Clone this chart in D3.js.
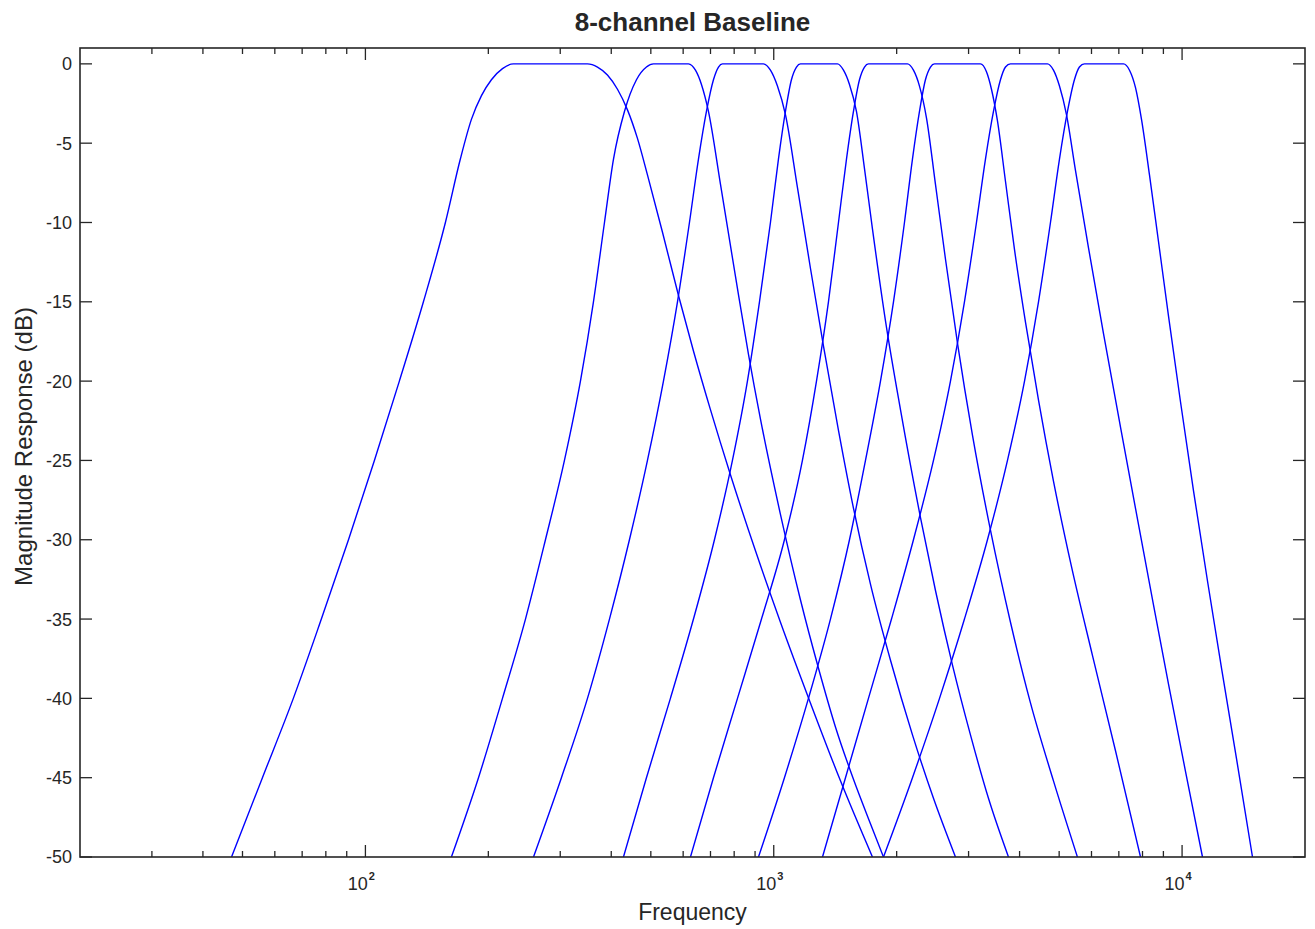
<!DOCTYPE html>
<html>
<head>
<meta charset="utf-8">
<script src="https://cdn.jsdelivr.net/npm/d3@7"></script>
<style>
body { margin: 0; background: #fff; }
text { font-family: "Liberation Sans", Arial, sans-serif; fill: #262626; }
</style>
</head>
<body>
<div id="chart"></div>
<script>

// Frequency responses: [frequency (Hz), magnitude (dB)]
var ch1 = [[47.0,-50],[55.95,-45],[66.6,-40],[78.0,-35],[90.9,-30],[105.2,-25],[121.1,-20],[138.7,-15],
	[157.0,-10],[170.8,-6],[181.8,-3.5],[192.4,-2],[203.5,-1],[216.6,-0.3],[230.4,0],[349.8,0],
	[370.1,-0.2],[391.5,-0.7],[414.3,-1.6],[438.3,-2.9],[463.7,-4.7],[490.6,-7.0],[533.8,-10.6],
	[584.4,-14.6],[635.9,-18.1],[699.8,-21.8],[783.3,-25.9],[902.1,-30.7],[1038.5,-35.2],[1230.2,-40.3],
	[1456.8,-45.2],[1744.7,-50]];

var ch2 = [[162.4,-50],[189.2,-45],[216.6,-40],[246.6,-35],[276.0,-30],[307.2,-25],[336.2,-20],[361.8,-15],
	[385.0,-10],[405.1,-6],[430.9,-3],[461.1,-1],[487.8,-0.2],[507.5,0],[618.2,0],
	[643.1,-0.4],[665.2,-1.3],[692.0,-3.0],[740.6,-7.6],[805.9,-13.4],[867.0,-18.3],[927.9,-22.4],
	[1038.5,-28.4],[1162.8,-33.8],[1287.0,-38.1],[1416.2,-41.8],[1567.5,-45.1],[1725.2,-47.9],[1856.8,-50]];

var ch3 = [[258.0,-50],[302.0,-45],[349.8,-40],[396.0,-35],[443.2,-30],[490.6,-25],[536.9,-20],[581.1,-15],
	[621.7,-10],[654.1,-6],[684.2,-3],[711.8,-1],[732.3,-0.2],[749.0,0],[943.7,0],
	[981.6,-0.4],[1021.1,-1.4],[1068.2,-3.2],[1143.1,-7.8],[1230.2,-12.9],[1323.8,-17.8],[1440.5,-23.1],
	[1567.5,-28.0],[1725.2,-32.8],[1931.6,-37.6],[2186.4,-42.3],[2461.4,-46.3],[2786.5,-50]];

var ch4 = [[428.5,-50],[487.8,-45],[558.4,-40],[635.9,-35],[715.8,-30],[792.2,-25],[862.1,-20],[922.7,-15],
	[981.6,-10],[1026.9,-6],[1068.2,-3],[1104.9,-1],[1136.7,-0.2],[1162.8,0],[1432.3,0],
	[1481.8,-0.4],[1532.8,-1.3],[1594.2,-3.0],[1668.1,-6.6],[1744.7,-10.4],[1877.8,-16.2],[2043.4,-21.8],
	[2287.5,-28.6],[2489.3,-33.2],[2739.8,-37.9],[3032.1,-42.3],[3356.3,-46.3],[3757.1,-50]];

var ch5 = [[625.2,-50],[711.8,-45],[815.1,-40],[933.2,-35],[1062.2,-30],[1175.5,-25],[1272.5,-20],[1361.4,-15],
	[1440.5,-10],[1507.1,-6],[1567.5,-3],[1621.7,-1],[1668.1,-0.2],[1705.8,0],[2125.6,0],
	[2198.7,-0.4],[2274.6,-1.4],[2365.9,-3.4],[2489.3,-7.6],[2633.4,-12.3],[2818.1,-17.6],[3066.5,-23.4],
	[3394.2,-29.4],[3799.7,-35.2],[4254.8,-40.3],[4842.1,-45.2],[5542.6,-50]];

var ch6 = [[917.5,-50],[1062.2,-45],[1216.2,-40],[1376.8,-35],[1532.8,-30],[1677.5,-25],[1825.6,-20],
	[1964.4,-15],[2089.9,-10],[2186.4,-6],[2274.6,-3],[2352.4,-1],[2420.0,-0.2],[2475.2,0],[3208.1,0],
	[3318.6,-0.5],[3413.5,-1.6],[3530.9,-3.6],[3694.0,-7.4],[3886.4,-11.7],[4136.1,-16.3],[4450.3,-21.2],
	[4842.1,-26.3],[5360.2,-31.7],[6034.3,-37.3],[6870.0,-43.3],[7910.1,-50]];

var ch7 = [[1316.4,-50],[1498.6,-45],[1705.8,-40],[1942.5,-35],[2198.7,-30],[2461.4,-25],[2709.0,-20],
	[2931.2,-15],[3136.5,-10],[3300.0,-6],[3452.2,-3],[3591.2,-1],[3694.0,-0.2],[3799.7,0],[4681.1,0],
	[4842.1,-0.4],[5009.0,-1.4],[5210.5,-3.2],[5480.4,-6.7],[5899.6,-11.6],[6420.4,-17.0],[7066.3,-22.9],
	[7777.4,-28.7],[8510.9,-34.1],[9263.4,-39.1],[10194,-44.6],[11220,-50]];

var ch8 = [[1856.8,-50],[2186.4,-45],[2546.6,-40],[2931.2,-35],[3337.4,-30],[3736.0,-25],[4112.9,-20],
	[4450.3,-15],[4761.0,-10],[5009.0,-6],[5240.0,-3],[5449.6,-1],[5605.7,-0.2],[5766.0,0],[7186.8,0],
	[7434.2,-0.4],[7690.3,-1.5],[7954.7,-3.5],[8320.9,-7.0],[8754.4,-11.2],[9263.4,-15.9],[9910.6,-21.3],
	[10664,-26.9],[11541,-32.6],[12490,-38.1],[13592,-43.8],[14875,-50]];

var channels = [ch1, ch2, ch3, ch4, ch5, ch6, ch7, ch8];

// Axis ticks
var yTicks = [0, -5, -10, -15, -20, -25, -30, -35, -40, -45, -50];
var xMajor = [100, 1000, 10000];
var xMinor = [30, 40, 50, 60, 70, 80, 90, 200, 300, 400, 500, 600, 700, 800, 900,
	2000, 3000, 4000, 5000, 6000, 7000, 8000, 9000];
var xExponents = ["2", "3", "4"];

var titleText = "8-channel Baseline";
var xLabel = "Frequency";
var yLabel = "Magnitude Response (dB)";

var width = 1315,
height = 929;

// Plot box edges (pixels)
var plotL = 80, plotR = 1305, plotT = 48, plotB = 857;

var x = d3.scaleLog()
.domain([20, 20000])
.range([plotL, plotR]);

var y = d3.scaleLinear()
.domain([-50, 1])
.range([plotB, plotT]);

var svg = d3.select("#chart")
.append("svg")
.attr("width", width)
.attr("height", height);

svg.append("defs")
.append("clipPath")
.attr("id", "plot-clip")
.append("rect")
.attr("x", plotL)
.attr("y", plotT)
.attr("width", plotR - plotL)
.attr("height", plotB - plotT);

// Filter curves
var line = d3.line()
.x(d => x(d[0]))
.y(d => y(d[1]))
.curve(d3.curveMonotoneX);

svg.append("g")
.attr("clip-path", "url(#plot-clip)")
.selectAll("path")
.data(channels)
.enter().append("path")
.attr("d", line)
.attr("fill", "none")
.attr("stroke", "#0000ff")
.attr("stroke-width", 1.4);

var axisColor = "#262626";
var ticks = svg.append("g")
.attr("stroke", axisColor)
.attr("stroke-width", 1.3);

// Y ticks on both sides, pointing inward
yTicks.forEach(function(v) {
	ticks.append("line")
	.attr("x1", plotL).attr("x2", plotL + 12)
	.attr("y1", y(v)).attr("y2", y(v));
	ticks.append("line")
	.attr("x1", plotR).attr("x2", plotR - 12)
	.attr("y1", y(v)).attr("y2", y(v));
});

// X ticks on top and bottom
xMajor.forEach(function(v) {
	ticks.append("line")
	.attr("x1", x(v)).attr("x2", x(v))
	.attr("y1", plotB).attr("y2", plotB - 12);
	ticks.append("line")
	.attr("x1", x(v)).attr("x2", x(v))
	.attr("y1", plotT).attr("y2", plotT + 12);
});

xMinor.forEach(function(v) {
	ticks.append("line")
	.attr("x1", x(v)).attr("x2", x(v))
	.attr("y1", plotB).attr("y2", plotB - 6);
	ticks.append("line")
	.attr("x1", x(v)).attr("x2", x(v))
	.attr("y1", plotT).attr("y2", plotT + 6);
});

// Plot frame
svg.append("rect")
.attr("x", plotL)
.attr("y", plotT)
.attr("width", plotR - plotL)
.attr("height", plotB - plotT)
.attr("fill", "none")
.attr("stroke", axisColor)
.attr("stroke-width", 1.6);

// Y tick labels
svg.append("g")
.selectAll("text")
.data(yTicks)
.enter().append("text")
.attr("x", plotL - 8)
.attr("y", d => y(d))
.attr("dy", "0.36em")
.attr("text-anchor", "end")
.style("font-size", "18px")
.text(d => d);

// X tick labels, 10 with superscript exponent
var xl = svg.append("g")
.selectAll("text")
.data(xMajor)
.enter().append("text")
.attr("x", d => x(d) - 4)
.attr("y", plotB + 33)
.attr("text-anchor", "middle")
.style("font-size", "18px");

xl.append("tspan")
.text("10");

xl.append("tspan")
.attr("dy", -10)
.attr("dx", 1)
.style("font-size", "11px")
.style("font-weight", "bold")
.text((d, i) => xExponents[i]);

// Title and axis labels
svg.append("text")
.attr("x", (plotL + plotR) / 2)
.attr("y", 31)
.attr("text-anchor", "middle")
.style("font-size", "26px")
.style("font-weight", "bold")
.text(titleText);

svg.append("text")
.attr("x", (plotL + plotR) / 2)
.attr("y", 920)
.attr("text-anchor", "middle")
.style("font-size", "23px")
.text(xLabel);

svg.append("text")
.attr("transform", "translate(32," + ((plotT + plotB) / 2 - 6) + ") rotate(-90)")
.attr("text-anchor", "middle")
.style("font-size", "24px")
.text(yLabel);

</script>
</body>
</html>
